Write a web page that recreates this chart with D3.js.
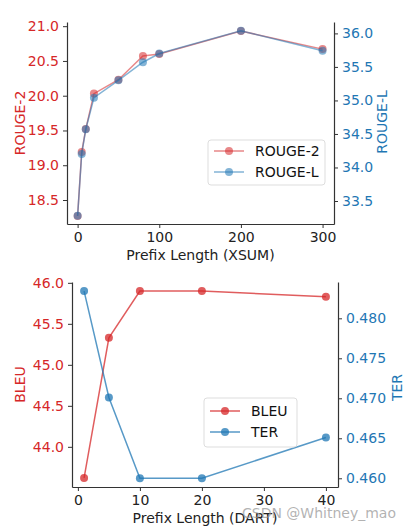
<!DOCTYPE html>
<html><head><meta charset="utf-8">
<script src="https://cdn.jsdelivr.net/npm/d3@7"></script>
<style>body{margin:0;background:#fff}svg{display:block;font-family:"DejaVu Sans",sans-serif}</style>
</head><body>
<svg id="c" width="417" height="531"></svg>
<script>
// ---- data ----
const xsumPrefix = [0, 5, 10, 20, 50, 80, 100, 200, 300];
const rouge2 = [18.27, 19.19, 19.52, 20.03, 20.23, 20.57, 20.60, 20.93, 20.67];
const rougeL = [33.28, 34.20, 34.57, 35.04, 35.30, 35.57, 35.70, 36.04, 35.74];
const xsumXTicks = [0, 100, 200, 300];
const rouge2Ticks = [18.5, 19.0, 19.5, 20.0, 20.5, 21.0];
const rougeLTicks = [33.5, 34.0, 34.5, 35.0, 35.5, 36.0];

const dartPrefix = [1, 5, 10, 20, 40];
const bleu = [43.62, 45.33, 45.90, 45.90, 45.83];
const ter = [0.4834, 0.4701, 0.4600, 0.4600, 0.4651];
const dartXTicks = [0, 10, 20, 30, 40];
const bleuTicks = [44.0, 44.5, 45.0, 45.5, 46.0];
const terTicks = [0.460, 0.465, 0.470, 0.475, 0.480];

const RED = "#d62728", BLUE = "#1f77b4";
const svg = d3.select("#c");

function panel(o) {
  const g = svg.append("g");
  const x = d3.scaleLinear().domain(o.xDom).range([o.left, o.right]);
  const yl = d3.scaleLinear().domain(o.ylDom).range([o.bottom, o.top]);
  const yr = d3.scaleLinear().domain(o.yrDom).range([o.bottom, o.top]);

  const styleAxis = (sel, color) => {
    sel.selectAll(".domain").attr("stroke", "#333").attr("stroke-width", 1.2);
    sel.selectAll(".tick line").attr("stroke", "#333").attr("stroke-width", 1);
    sel.selectAll(".tick text").attr("fill", color).style("font-size", "14px").style("font-family", "DejaVu Sans");
  };
  g.append("g").attr("transform", `translate(0,${o.bottom})`)
    .call(d3.axisBottom(x).tickValues(o.xTicks).tickSize(4).tickPadding(4).tickSizeOuter(0))
    .call(s => styleAxis(s, "#222"));
  g.append("g").attr("transform", `translate(${o.left},0)`)
    .call(d3.axisLeft(yl).tickValues(o.ylTicks).tickFormat(o.ylFmt).tickSize(4).tickPadding(4).tickSizeOuter(0))
    .call(s => styleAxis(s, RED));
  g.append("g").attr("transform", `translate(${o.right},0)`)
    .call(d3.axisRight(yr).tickValues(o.yrTicks).tickFormat(o.yrFmt).tickSize(4).tickPadding(4).tickSizeOuter(0))
    .call(s => styleAxis(s, BLUE));

  const drawSeries = (vals, y, color, alpha) => {
    const pts = o.xs.map((d, i) => [x(d), y(vals[i])]);
    g.append("path").attr("d", d3.line()(pts)).attr("fill", "none")
      .attr("stroke", color).attr("stroke-width", 1.5).attr("stroke-opacity", alpha);
    g.selectAll(null).data(pts).enter().append("circle")
      .attr("cx", d => d[0]).attr("cy", d => d[1]).attr("r", o.r)
      .attr("fill", color).attr("fill-opacity", alpha);
  };
  drawSeries(o.lv, yl, RED, o.alpha);
  drawSeries(o.rv, yr, BLUE, o.alpha);

  const midY = (o.top + o.bottom) / 2;
  g.append("text").attr("transform", `translate(${o.lLabelX},${midY}) rotate(-90)`)
    .attr("text-anchor", "middle").attr("fill", RED).style("font-size", "14px").text(o.lLabel);
  g.append("text").attr("transform", `translate(${o.rLabelX},${midY + o.rLabelDy}) rotate(-90)`)
    .attr("text-anchor", "middle").attr("fill", BLUE).style("font-size", "14px").text(o.rLabel);
  g.append("text").attr("x", (o.left + o.right) / 2).attr("y", o.xLabelY)
    .attr("text-anchor", "middle").attr("fill", "#222").style("font-size", "14px").text(o.xLabel);

  // legend
  const L = o.legend;
  g.append("rect").attr("x", L.x).attr("y", L.y).attr("width", L.w).attr("height", L.h)
    .attr("rx", 3).attr("fill", "#fff").attr("fill-opacity", 0.85).attr("stroke", "#ddd");
  [[o.lLabel, RED], [o.rLabel, BLUE]].forEach((e, i) => {
    const cy = L.y + L.row0 + i * L.dy;
    g.append("line").attr("x1", L.x + 6).attr("x2", L.x + 36).attr("y1", cy).attr("y2", cy)
      .attr("stroke", e[1]).attr("stroke-width", 1.5).attr("stroke-opacity", o.alpha);
    g.append("circle").attr("cx", L.x + 21).attr("cy", cy).attr("r", o.r).attr("fill", e[1]).attr("fill-opacity", o.alpha);
    g.append("text").attr("x", L.x + 47).attr("y", cy + 5).attr("fill", "#111").style("font-size", "14px").text(e[0]);
  });
}

panel({
  xs: xsumPrefix, lv: rouge2, rv: rougeL,
  xDom: [-13, 314], ylDom: [18.155, 21.06], yrDom: [33.157, 36.17],
  left: 67, right: 334, top: 22, bottom: 224,
  xTicks: xsumXTicks, ylTicks: rouge2Ticks, yrTicks: rougeLTicks,
  ylFmt: d3.format(".1f"), yrFmt: d3.format(".1f"),
  lLabel: "ROUGE-2", rLabel: "ROUGE-L", xLabel: "Prefix Length (XSUM)",
  lLabelX: 25, rLabelX: 387, rLabelDy: -1, xLabelY: 260,
  alpha: 0.55, r: 4,
  legend: {x: 208, y: 140, w: 117, h: 45, row0: 11, dy: 21}
});

panel({
  xs: dartPrefix, lv: bleu, rv: ter,
  xDom: [-0.95, 41.95], ylDom: [43.51, 46.01], yrDom: [0.45891, 0.48454],
  left: 72, right: 338, top: 282, bottom: 487,
  xTicks: dartXTicks, ylTicks: bleuTicks, yrTicks: terTicks,
  ylFmt: d3.format(".1f"), yrFmt: d3.format(".3f"),
  lLabel: "BLEU", rLabel: "TER", xLabel: "Prefix Length (DART)",
  lLabelX: 25, rLabelX: 402, rLabelDy: 3, xLabelY: 523,
  alpha: 0.75, r: 4,
  legend: {x: 204, y: 398, w: 93, h: 49, row0: 13, dy: 21}
});

svg.append("text").attr("x", 242).attr("y", 518).attr("fill", "#999").attr("fill-opacity", 0.75)
  .style("font-size", "14px").text("CSDN @Whitney_mao");
</script>
</body></html>
